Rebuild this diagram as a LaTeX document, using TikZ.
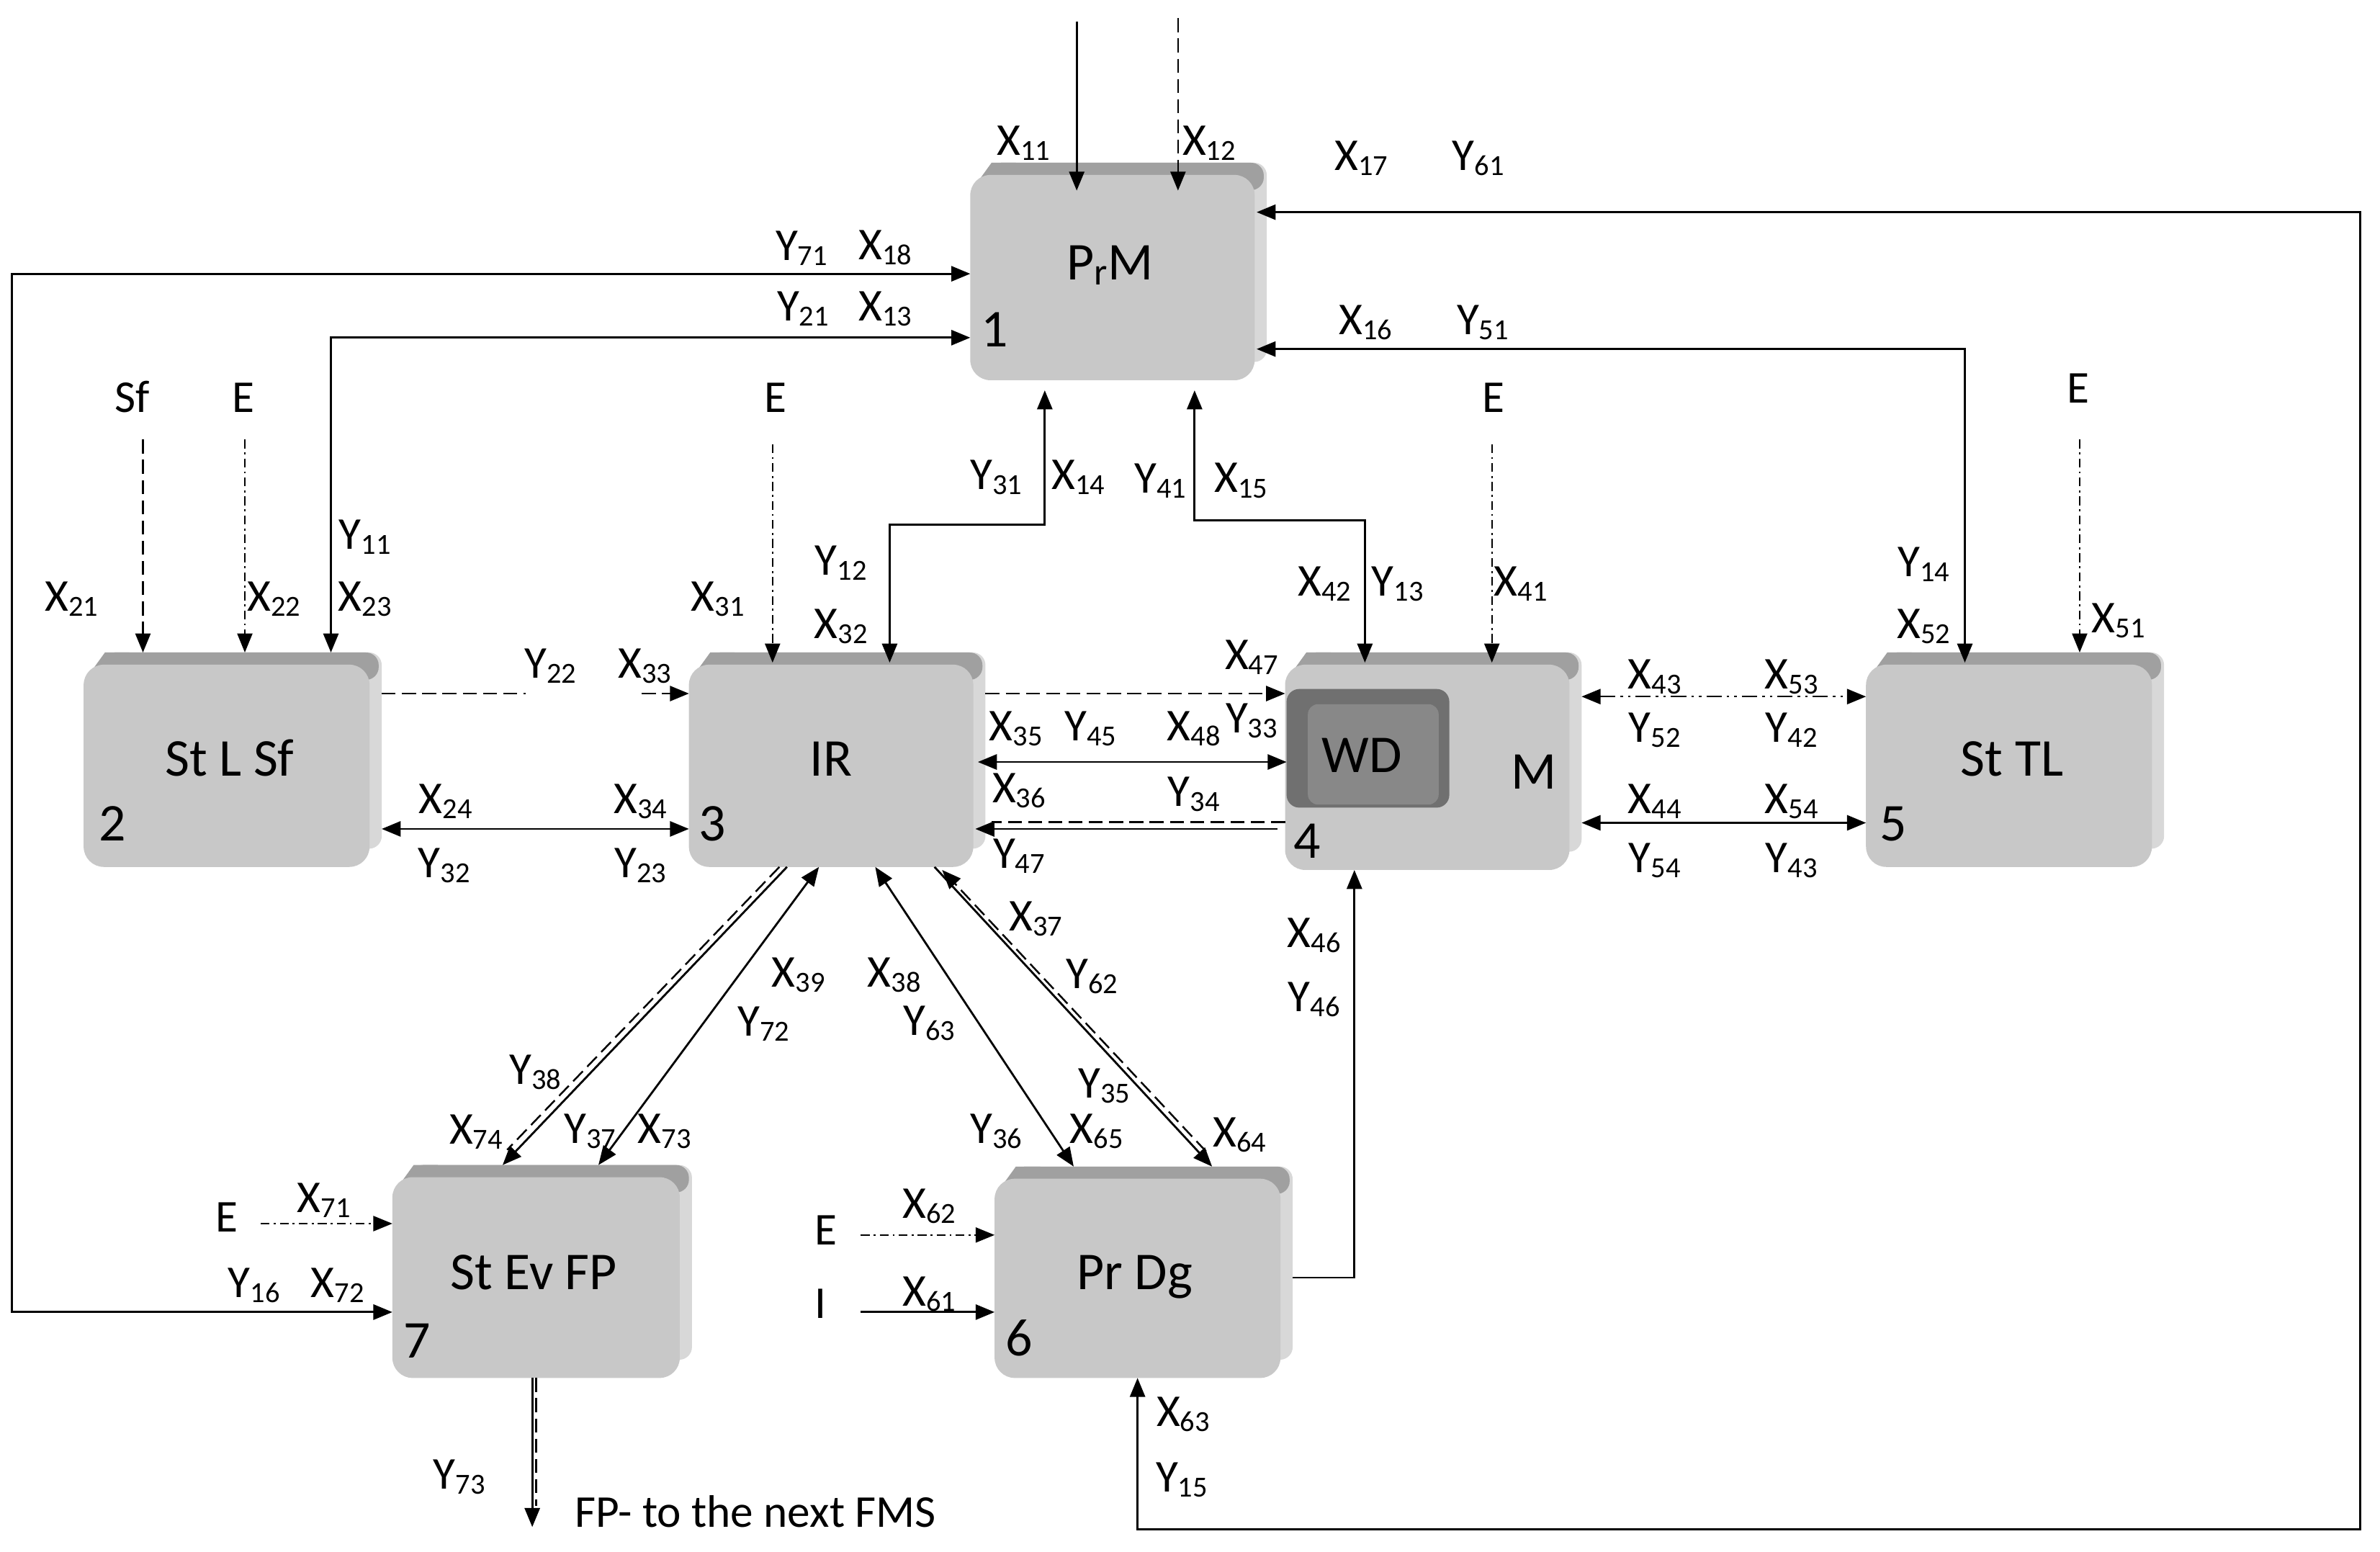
\documentclass[tikz,border=0pt]{standalone}
\usepackage{fontspec}
\setmainfont{Carlito}
\usetikzlibrary{arrows.meta,calc,fit}
\definecolor{bodyc}{HTML}{C8C8C8}
\definecolor{topc}{HTML}{A0A0A0}
\definecolor{sidec}{HTML}{D8D8D8}
\definecolor{wdout}{HTML}{707070}
\definecolor{wdin}{HTML}{888888}
\newcommand\lsub[1]{\raisebox{-2pt}{\fontsize{11.5}{12}\selectfont #1}}
\newcommand\tdbox[5]{%
  \fill[sidec,rounded corners=5pt] (#2+12,#3) rectangle (#4,#5-12);
  \fill[topc,rounded corners=5pt] (#2+12,#3) rectangle (#4-2,#3+18);
  \fill[topc] (#2+1,#3+18) -- (#2+14,#3) -- (#2+30,#3) -- (#2+30,#3+18) -- cycle;
  \fill[bodyc,rounded corners=8pt] (#2,#3+8) rectangle (#4-8,#5);
  \coordinate (#1tl) at (#2,#3);
  \coordinate (#1br) at (#4,#5);
  \node[fit=(#1tl)(#1br),inner sep=0pt,outer sep=0pt] (#1) {};}
\begin{document}
\begin{tikzpicture}[x=0.02112cm,y=-0.02112cm,line width=0.8pt,
  >={Triangle[length=7.5pt,width=6pt]},
  lbl/.style={inner sep=0pt,font=\fontsize{18}{20}\selectfont},
  btxt/.style={inner sep=0pt,anchor=base,font=\fontsize{21}{24}\selectfont},
  stxt/.style={inner sep=0pt,anchor=base,font=\fontsize{18}{20}\selectfont},
  dsh/.style={dash pattern=on 5.5pt off 2.5pt,line width=0.7pt},
  edsh/.style={dash pattern=on 3.5pt off 1.6pt on 0.8pt off 1.6pt,line width=0.55pt},
  ddsh/.style={dash pattern=on 6pt off 2pt on 1pt off 2pt on 1pt off 2pt,line width=0.7pt},
  sinkA/.style={shorten >=-4pt},
  sinkB/.style={shorten >=-11pt}]
\fill[white] (0,0) rectangle (1565,1020);
\useasboundingbox (0,0) rectangle (1565,1020);
% boxes
\tdbox{b1}{638}{107}{833}{250}
\tdbox{b2}{55}{429}{251}{570}
\tdbox{b3}{453}{429}{648}{570}
\tdbox{b4}{845}{429}{1040}{572}
\tdbox{b5}{1227}{429}{1423}{570}
\tdbox{b6}{654}{767}{850}{906}
\tdbox{b7}{258}{766}{455}{906}
\fill[wdout,rounded corners=5pt] (846,453) rectangle (953,531);
\fill[wdin,rounded corners=4pt] (860,463) rectangle (946,529);
\coordinate (wdtl) at (846,453);
\coordinate (wdbr) at (953,531);
\node[fit=(wdtl)(wdbr),inner sep=0pt,outer sep=0pt] (wd) {};
% box texts
\node[btxt] (t1) at (730,184) {P\raisebox{-2pt}{\fontsize{15}{16}\selectfont r}M};
\node[btxt] (n1t) at (654,228) {1};
\node[btxt] (t2) at (151,510) {St L Sf};
\node[btxt] (n2t) at (74,553) {2};
\node[btxt] (t3) at (546.5,510) {IR};
\node[btxt] (n3t) at (468.5,553) {3};
\node[btxt] (twd) at (895.5,508) {WD};
\node[btxt] (t4) at (1008.5,518.7) {M};
\node[btxt] (n4t) at (859.5,564) {4};
\node[btxt] (t5) at (1323,510) {St TL};
\node[btxt] (n5t) at (1245,553) {5};
\node[btxt] (t6) at (746,847.6) {Pr Dg};
\node[btxt] (n6t) at (670,891.6) {6};
\node[btxt] (t7) at (351,847.6) {St Ev FP};
\node[btxt] (n7t) at (274.5,893) {7};
% source texts
\node[stxt] (sf) at (87,271) {Sf};
\node[stxt] (ea) at (160,271) {E};
\node[stxt] (eb) at (510,271) {E};
\node[stxt] (ec) at (982,271) {E};
\node[stxt] (ed) at (1366.5,265) {E};
\node[stxt] (ee) at (149,810) {E};
\node[stxt] (ef) at (543,818.6) {E};
\node[stxt] (ii) at (539.6,867) {I};
\node[stxt,anchor=base west] (fp) at (377.6,1004) {FP- to the next FMS};
% inputs to PrM
\coordinate (s11) at (708,14);
\coordinate (s12) at (774.6,12);
\draw[->,sinkB] (s11) -- (s11 |- b1.north);
\draw[->,dsh,sinkB] (s12) -- (s12 |- b1.north);
% right loop 1 <-> 6
\coordinate (r1) at (1552,139.5);
\coordinate (r2) at (1552,1005.5);
\coordinate (r3) at (748,1005.5);
\draw[<->,shorten <=-4pt] (b1.east |- r1) -- (r1) -- (r2) -- (r3) -- (r3 |- b6.south);
% left loop 1 <-> 7
\coordinate (l1) at (8,180);
\coordinate (l2) at (8,862.7);
\draw[<->] (b1.west |- l1) -- (l1) -- (l2) -- (l2 -| b7.west);
% 1 <-> 2
\coordinate (k1) at (217.6,222);
\draw[<->] (b1.west |- k1) -- (k1) -- (k1 |- b2.north);
% 1 <-> 5
\coordinate (m1) at (1292,229.5);
\draw[<->,shorten <=-4pt,sinkA] (b1.east |- m1) -- (m1) -- (m1 |- b5.north);
% 1 <-> 3
\coordinate (p1) at (687,345);
\coordinate (p2) at (585,345);
\draw[<->,shorten <=4pt,sinkA] (p1 |- b1.south) -- (p1) -- (p2) -- (p2 |- b3.north);
% 1 <-> 4
\coordinate (q1) at (785.5,342);
\coordinate (q2) at (897.5,342);
\draw[<->,shorten <=4pt,sinkA] (q1 |- b1.south) -- (q1) -- (q2) -- (q2 |- b4.north);
% external inputs
\coordinate (e1) at (94,289);
\draw[->,dsh] (e1) -- (e1 |- b2.north);
\coordinate (e2) at (161,289);
\draw[->,edsh] (e2) -- (e2 |- b2.north);
\coordinate (e3) at (508,292);
\draw[->,edsh,sinkA] (e3) -- (e3 |- b3.north);
\coordinate (e4) at (981,292);
\draw[->,edsh,sinkA] (e4) -- (e4 |- b4.north);
\coordinate (e5) at (1367.5,289);
\draw[->,edsh] (e5) -- (e5 |- b5.north);
% 2 -> 3 dashed
\coordinate (g1) at (345.5,456);
\coordinate (g2) at (422,456);
\draw[dsh] (b2.east |- g1) -- (g1);
\draw[->,dsh] (g2) -- (g2 -| b3.west);
% 2 <-> 3
\coordinate (h24) at (0,545);
\draw[<->] (b2.east |- h24) -- (b3.west |- h24);
% 3 -> 4 dashed
\coordinate (h47) at (0,456);
\draw[->,dsh] (b3.east |- h47) -- (b4.west |- h47);
% 3 <-> WD
\coordinate (h35) at (0,501);
\draw[<->,shorten <=-3pt] (b3.east |- h35) -- (wd.west |- h35);
% 4 -> 3 double
\coordinate (h47a) at (0,540.5);
\coordinate (h47b) at (0,545);
\draw[dsh] (b4.west |- h47a) -- ($(b3.east |- h47a)+(4,0)$);
\draw[->,shorten >=-4pt] ($(b4.west |- h47b)+(-5,0)$) -- (b3.east |- h47b);
% 4 <-> 5
\coordinate (h43) at (0,458);
\coordinate (h44) at (0,541);
\draw[<->,ddsh] (b4.east |- h43) -- (b5.west |- h43);
\draw[<->] (b4.east |- h44) -- (b5.west |- h44);
% diagonals 3 - 7
\draw[->] ($(b3.south)+(-33,0)$) -- ($(b7.north)+(-26,0)$);
\draw[dsh] ($(b3.south)+(-38,0)$) -- ($(b7.north)+(-23,-10)$);
\draw[<->] ($(b7.north)+(37,0)$) -- ($(b3.south)+(-12,0)$);
% diagonals 3 - 6
\draw[<->] ($(b3.south)+(25,0)$) -- ($(b6.north)+(-46,0)$);
\draw[->] ($(b3.south)+(64,0)$) -- ($(b6.north)+(45,0)$);
\draw[->,dsh] ($(b6.north)+(41,-10)$) -- ($(b3.south)+(69,2)$);
% 6 -> 4
\coordinate (n1) at (890.6,840);
\draw[->] (b6.east |- n1) -- (n1) -- (n1 |- b4.south);
% output of 7
\coordinate (y73) at (350,1004);
\draw[->] (y73 |- b7.south) -- (y73);
\draw[dsh] ($(y73 |- b7.south)+(2.5,0)$) -- ($(y73)+(2.5,-14)$);
% inputs to 7 and 6
\coordinate (e7) at (171.5,804.5);
\draw[->,edsh] (e7) -- (e7 -| b7.west);
\coordinate (e6) at (566,812);
\draw[->,edsh] (e6) -- (e6 -| b6.west);
\coordinate (i6) at (566,862.7);
\draw[->] (i6) -- (i6 -| b6.west);
% variable labels
\foreach \lv/\ls/\lx/\ly [count=\i] in {
X/11/673/94, X/12/795/94, X/17/895/104, Y/61/972/104,
Y/71/527/163, X/18/582/163, Y/21/528/203, X/13/582/203,
X/16/898/212, Y/51/975/212,
Y/31/655/314, X/14/709/314, Y/41/763/316, X/15/816/316,
Y/11/240/353, Y/12/553/370, Y/14/1265/371,
X/21/47/394, X/22/180/394, X/23/240/394, X/31/472/394, X/32/553/412,
X/42/871/384, Y/13/919/384, X/41/1000/384, X/52/1265/412, X/51/1393/408,
Y/22/362/438, X/33/424/438, X/47/823/432,
X/43/1088/445, X/53/1178/445,
X/35/668/479, Y/45/717/479, X/48/785/479, Y/33/823/474,
Y/52/1088/480, Y/42/1178/480,
X/24/293/527, X/34/421/527, X/36/670/520, Y/34/785/522,
X/44/1088/527, X/54/1178/527,
Y/32/292/569, Y/23/421/569, Y/47/670/563, Y/54/1088/566, Y/43/1178/566,
X/37/681/604, X/46/864/615,
X/39/525/641, X/38/588/641, Y/62/718/642,
Y/72/502/673, Y/63/611/673, Y/46/864/657,
Y/38/352/705, Y/35/726/714,
X/74/313/744, Y/37/388/744, X/73/437/744, Y/36/655/744, X/65/721/744, X/64/815/746,
X/71/213/789, X/62/611/793,
Y/16/167/845, X/72/222/845, X/61/611/851,
X/63/778/930, Y/15/777/973, Y/73/302/971}
  \node[lbl] (lab\i) at (\lx,\ly) {\lv\lsub{\ls}};
\end{tikzpicture}
\end{document}
